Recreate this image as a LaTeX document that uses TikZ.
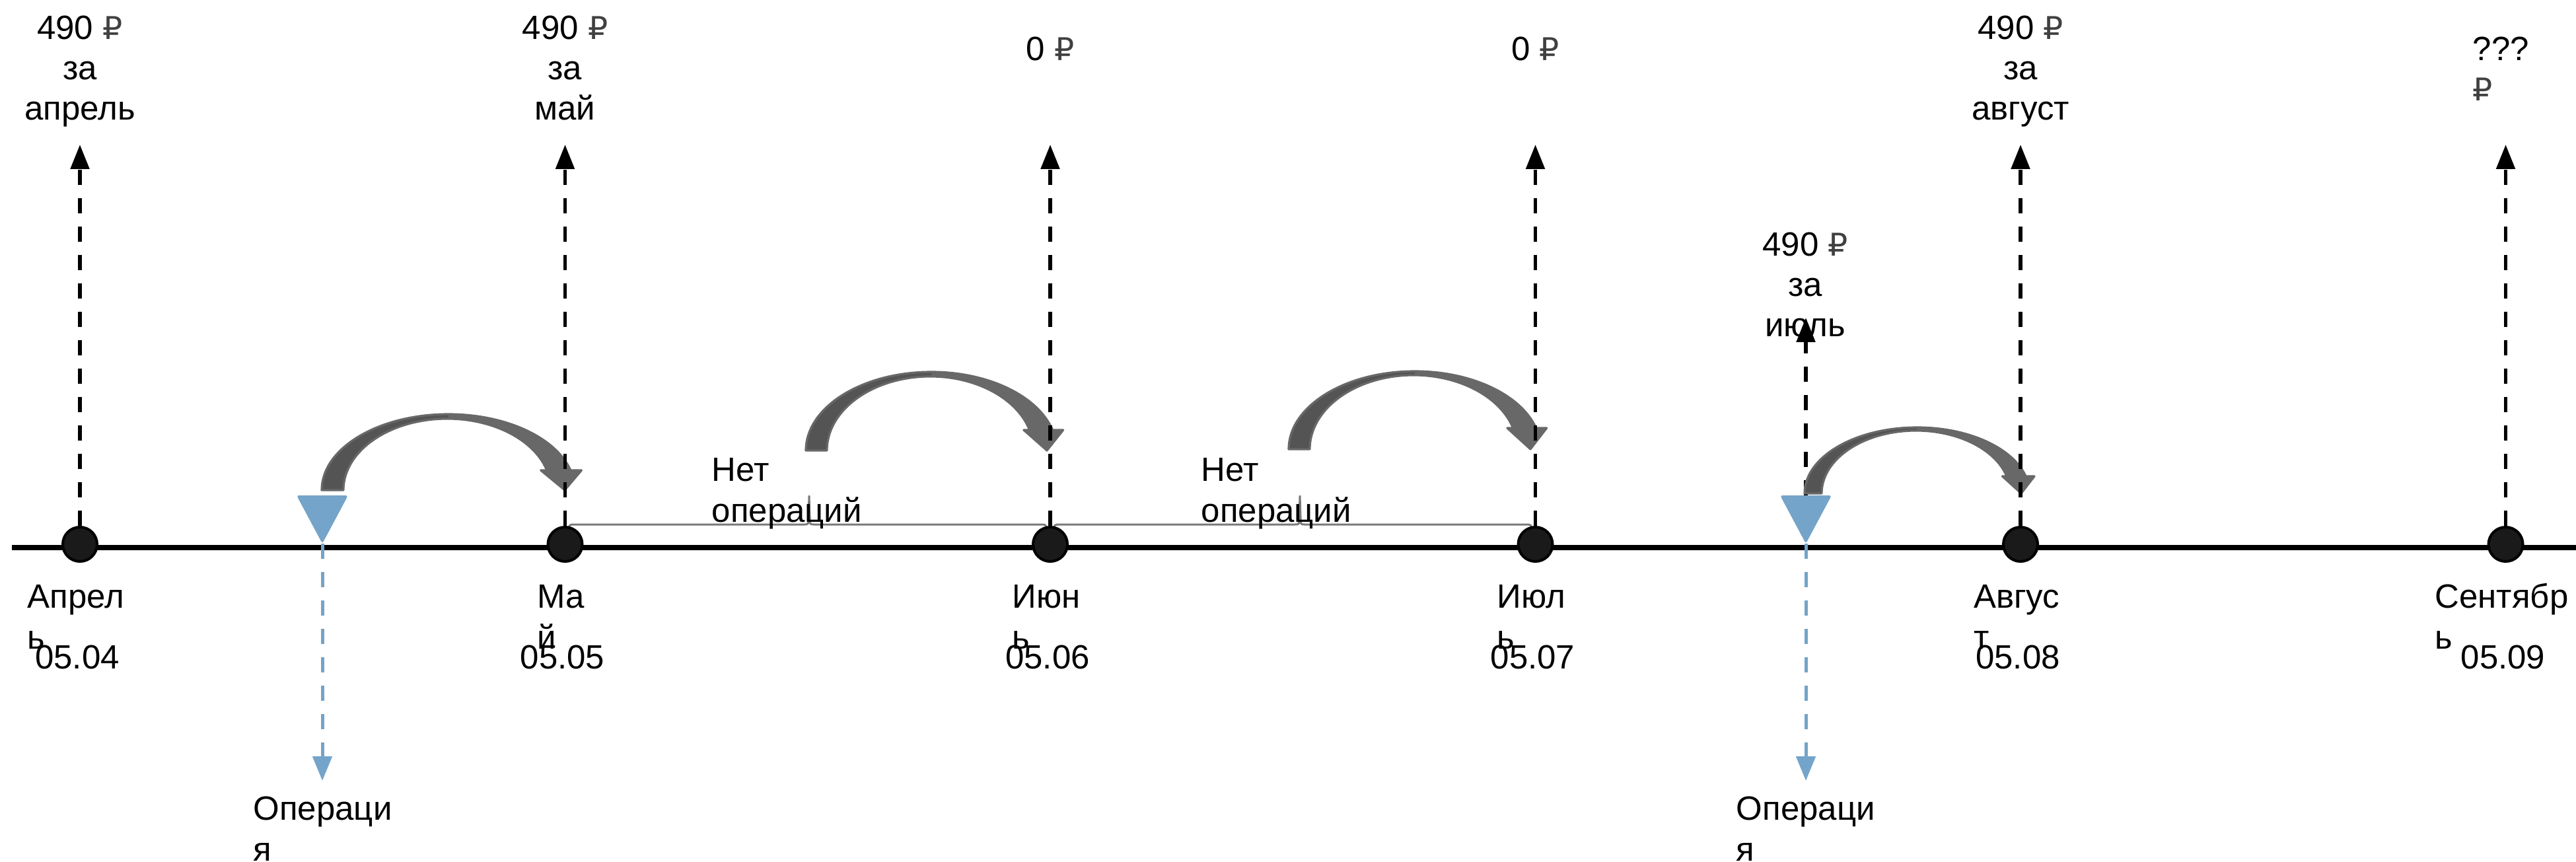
\documentclass[tikz,border=0pt]{standalone}
\usepackage{fontspec}
\setmainfont{Liberation Sans}
\newfontfamily\rubfont{DejaVu Sans}
\usetikzlibrary{arrows.meta,calc,positioning}

\definecolor{opblue}{RGB}{116,164,201}
\definecolor{arrowgray}{RGB}{104,104,104}
\definecolor{arrowdark}{RGB}{84,84,84}
\definecolor{bracegray}{RGB}{122,122,122}
\definecolor{dotfill}{RGB}{26,26,26}
\definecolor{rubgray}{RGB}{64,64,64}

\newcommand{\rub}{{\rubfont\color{rubgray}\fontsize{13.5}{17.4}\selectfont ₽}}

% изогнутая стрелка: xL, ширина, x острия, Y основания, высота, длина головки, толщина вверху
\newcommand{\curvarrow}[7]{%
  \pgfmathsetmacro\cxo{#3+0.27*#2}
  \pgfmathsetmacro\ango{asin(#6/#5)}
  \pgfmathsetmacro\ao{(\cxo-#1)/(1+cos(\ango))}
  \pgfmathsetmacro\cxi{\cxo-#2-0.03}
  \pgfmathsetmacro\bi{#5-#7}
  \pgfmathsetmacro\angi{asin(#6/\bi)}
  \pgfmathsetmacro\ai{(\cxi-#1-#2)/(1+cos(\angi))}
  \pgfmathsetmacro\midx{#1+\ao}
  \pgfmathsetmacro\hl{#3-1.1*#2}
  \pgfmathsetmacro\hr{#3+0.77*#2}
  \def\arrowshape{(#1,#4)
      arc[start angle=180, end angle=\ango, x radius=\ao, y radius=#5]
      -- (\hr,#4+#6) -- (#3,#4) -- (\hl,#4+#6) -- (\cxi,#4+#6)
      arc[start angle=\angi, end angle=180, x radius=\ai, y radius=\bi] -- cycle}
  \fill[arrowgray] \arrowshape;
  \begin{scope}
    \clip (#1-0.2,#4-0.2) rectangle (\midx,#4+#5+0.2);
    \fill[arrowdark] \arrowshape;
  \end{scope}
  \draw[arrowgray, line width=0.9pt, line join=round] \arrowshape;
}

\begin{document}
\begin{tikzpicture}[
    font=\fontsize{14.5}{17.4}\selectfont,
    monthdot/.style={circle, fill=dotfill, draw=black, line width=0.04cm,
        minimum size=0.52cm, inner sep=0pt},
    mainline/.style={line width=0.08cm},
    updash/.style={line width=0.055cm, dash pattern=on 0.23cm off 0.2cm,
        -{Triangle[length=0.37cm,width=0.28cm]}},
    opdash/.style={opblue, line width=0.05cm, dash pattern=on 0.23cm off 0.2cm,
        -{Triangle[length=0.37cm,width=0.29cm]}},
    brace/.style={bracegray, line width=0.03cm, line join=round},
    toplabel/.style={align=center, anchor=base, inner sep=0pt},
    leftlabel/.style={align=left, anchor=base west, inner sep=0pt},
    monthlabel/.style={align=left, anchor=base, inner sep=0pt}
]
\useasboundingbox (0,0) rectangle (39,13.04);

% ======================================
% параметры
% ======================================
\def\xstart{1.21}   % x первой точки
\def\xstep{7.345}   % шаг между месяцами
\def\ydot{4.80}     % центр точек
\def\ytip{10.85}    % острия пунктирных стрелок

% ось времени
\coordinate (axis-start) at (0.18,4.75);
\coordinate (axis-end) at (39,4.75);
\draw[mainline] (axis-start) -- (axis-end);

% ======================================
% фигурные скобки между точками
% ======================================
\foreach \xa/\xc/\xb in {8.555/12.25/15.90, 15.90/19.68/23.245} {
  \draw[brace] (\xa+0.05,5.03) .. controls (\xa+0.07,5.10) .. (\xa+0.15,5.10)
      -- (\xc-0.07,5.10) .. controls (\xc-0.01,5.10) .. (\xc-0.01,5.22)
      -- (\xc,5.53) -- (\xc+0.01,5.22) .. controls (\xc+0.01,5.10) .. (\xc+0.07,5.10)
      -- (\xb-0.15,5.10) .. controls (\xb-0.07,5.10) .. (\xb-0.05,5.03);
}

% ======================================
% точки месяцев
% ======================================
\foreach \name [count=\i from 0] in {apr,may,jun,jul,aug,sep} {
  \node[monthdot] (\name) at ({\xstart+\xstep*\i},\ydot) {};
  \coordinate (\name-top) at ({\xstart+\xstep*\i},\ytip);
}

% ======================================
% операции (синие треугольники)
% ======================================
\foreach \name/\x in {op1/4.88, op2/27.34} {
  \coordinate (\name-top) at (\x,5.54);
  \coordinate (\name-tip) at (\x,4.81);
  \coordinate (\name-end) at (\x,1.22);
  \fill[opblue, rounded corners=1pt] (\x-0.39,5.54) -- (\x+0.39,5.54) -- (\name-tip) -- cycle;
  \draw[opdash] (\name-tip) -- (\name-end);
}

% оплата за июль
\coordinate (op2-pay) at (27.34,8.23);
\draw[updash] (op2-top) -- (op2-pay);

% ======================================
% изогнутые стрелки
% ======================================
\curvarrow{4.87}{0.33}{8.55}{5.62}{1.15}{0.30}{0.07}
\curvarrow{12.20}{0.32}{15.85}{6.22}{1.19}{0.31}{0.07}
\curvarrow{19.51}{0.32}{23.17}{6.24}{1.18}{0.32}{0.06}
\curvarrow{27.32}{0.26}{30.60}{5.57}{1.00}{0.26}{0.05}

% пунктирные стрелки от месяцев
\foreach \name in {apr,may,jun,jul,aug,sep}
  \draw[updash] (\name.north) -- (\name-top);

% ======================================
% подписи сверху (base = последняя строка)
% ======================================
\node[toplabel] (pay-apr) at (1.21,11.22) {490 \rub\\за\\апрель};
\node[toplabel] (pay-may) at (8.555,11.22) {490 \rub\\за\\май};
\node[toplabel] (pay-jun) at (15.90,12.12) {0 \rub};
\node[toplabel] (pay-jul) at (23.245,12.12) {0 \rub};
\node[toplabel] (pay-aug) at (30.59,11.22) {490 \rub\\за\\август};
\node[leftlabel] (pay-sep) at (37.43,11.51) {???\\\rub};
\node[toplabel] (pay-late) at (27.33,7.94) {490 \rub\\за\\июль};

% ======================================
% подписи снизу
% ======================================
\foreach \name/\month/\date in {apr/Апрел\\ь/05.04, may/Ма\\й/05.05,
    jun/Июн\\ь/05.06, jul/Июл\\ь/05.07, aug/Авгус\\т/05.08, sep/Сентябр\\ь/05.09} {
  \node[monthlabel] (\name-name) at ($(\name)+(-0.06,-1.58)$) {\month};
  \node[toplabel] (\name-date) at ($(\name)+(-0.04,-1.88)$) {\date};
}

\node[leftlabel] (none1) at (10.77,5.14) {Нет\\операций};
\node[leftlabel] (none2) at (18.18,5.14) {Нет\\операций};
\node[leftlabel] (op1-label) at (3.83,0.01) {Операци\\я};
\node[leftlabel] (op2-label) at (26.28,0.01) {Операци\\я};

\end{tikzpicture}
\end{document}
